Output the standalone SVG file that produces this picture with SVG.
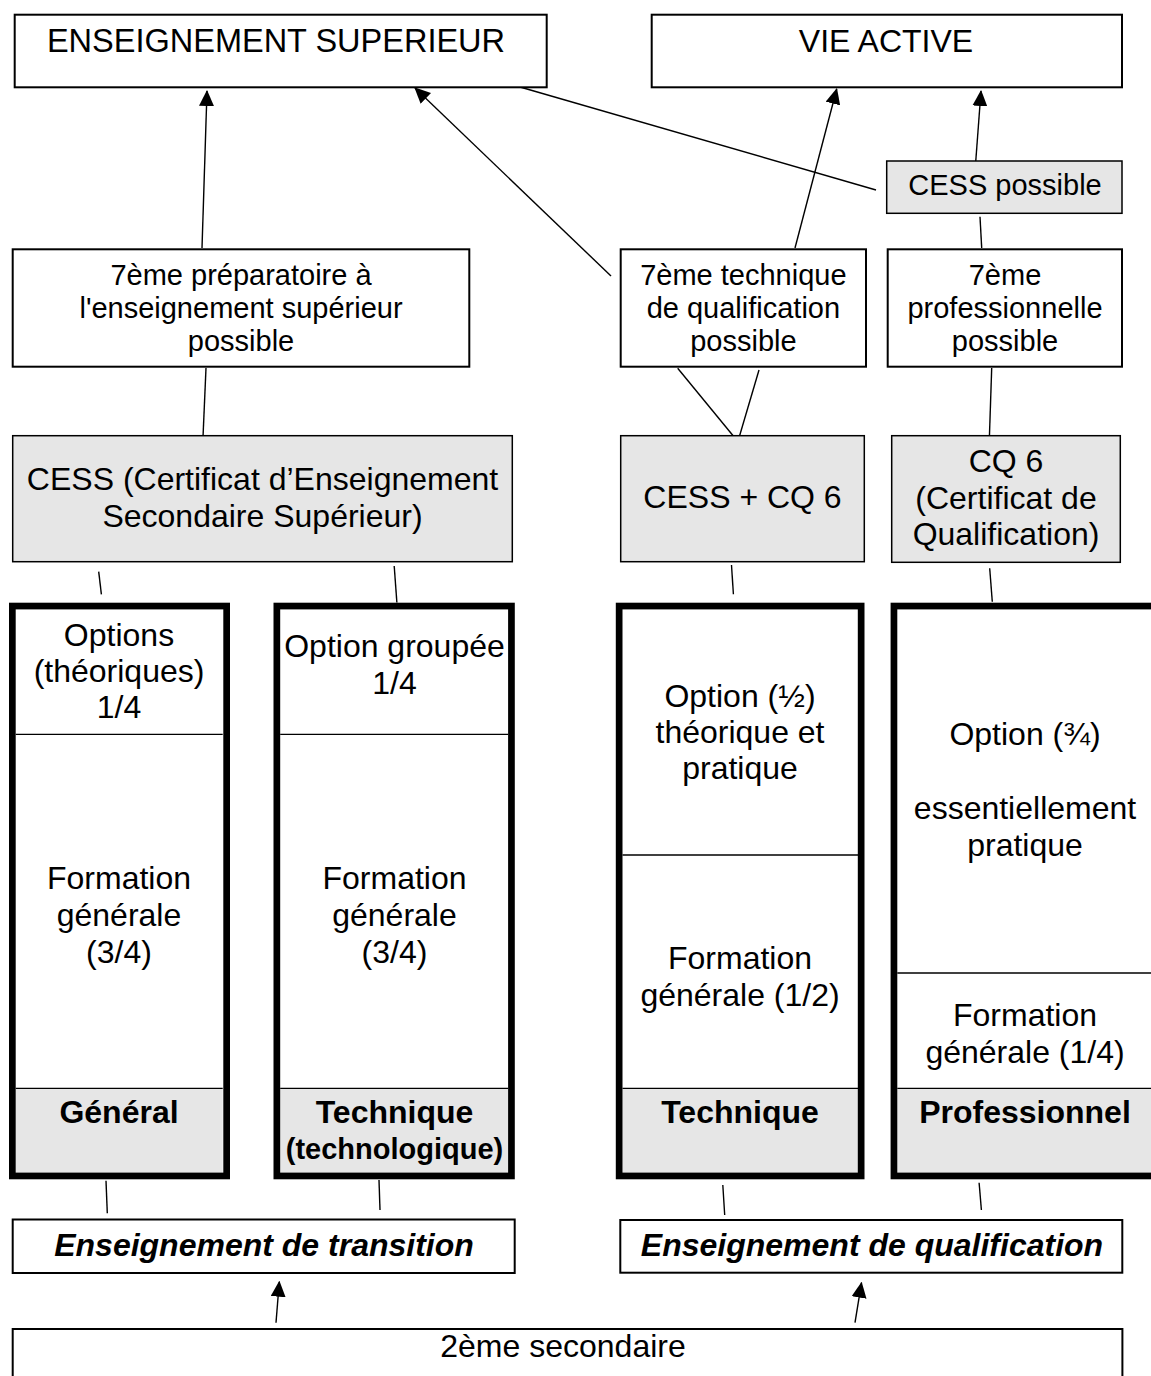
<svg xmlns="http://www.w3.org/2000/svg" width="1151" height="1376" viewBox="0 0 1151 1376">
<style>
.box{fill:#fff;stroke:#000;stroke-width:2}
.gbox{fill:#e6e6e6;stroke:#000;stroke-width:1.5}
.colbg{fill:#fff}
.colb{fill:none;stroke:#000;stroke-width:6.7}
.lbl{fill:#e6e6e6}
.dv{stroke:#000;stroke-width:1.3}
.t{font-family:"Liberation Sans",Arial,sans-serif;font-size:32px;text-anchor:middle;fill:#000}
.s{font-size:29px}
.b{font-weight:bold}
.bi{font-weight:bold;font-style:italic}
.con{stroke:#000;stroke-width:1.4;fill:none}
.arr{marker-end:url(#ah)}
</style>
<defs>
<marker id="ah" viewBox="0 0 16 15" markerWidth="16" markerHeight="15" refX="15" refY="7.5" orient="auto" markerUnits="userSpaceOnUse">
<path d="M0,0 L16,7.5 L0,15 Z" fill="#000"/>
</marker>
</defs>

<g id="connectors">
<line class="con arr" x1="202" y1="248" x2="207" y2="91"/>
<line class="con arr" x1="611" y1="276" x2="415" y2="88"/>
<line class="con arr" x1="795" y1="248" x2="836.7" y2="89"/>
<line class="con arr" x1="975.7" y1="162" x2="981" y2="91"/>
<line class="con" x1="520" y1="87" x2="876" y2="190"/>
<line class="con" x1="980" y1="216.7" x2="981.7" y2="248"/>
<line class="con" x1="206" y1="368" x2="203" y2="437"/>
<line class="con" x1="677.7" y1="368.3" x2="740.7" y2="445"/>
<line class="con" x1="759" y1="370" x2="739.3" y2="436.7"/>
<line class="con" x1="991.7" y1="368" x2="989.3" y2="440"/>
<line class="con" x1="98.7" y1="571.7" x2="101.4" y2="594.3"/>
<line class="con" x1="394.2" y1="566" x2="396.9" y2="602.7"/>
<line class="con" x1="731.5" y1="565" x2="733.4" y2="594.3"/>
<line class="con" x1="989.7" y1="568.3" x2="992.3" y2="601.7"/>
<line class="con" x1="106" y1="1180.7" x2="107.3" y2="1213.3"/>
<line class="con" x1="379" y1="1180" x2="380" y2="1210"/>
<line class="con" x1="722.8" y1="1185" x2="724.7" y2="1215"/>
<line class="con" x1="979.1" y1="1182.7" x2="981.4" y2="1210"/>
<line class="con arr" x1="276" y1="1322.7" x2="279.3" y2="1281.7"/>
<line class="con arr" x1="855" y1="1322.7" x2="861.5" y2="1282.7"/>
</g>

<g id="n-es">
<rect class="box" x="14.7" y="14.7" width="532" height="72.6"/>
<text class="t" x="276" y="52" style="font-size:32.5px">ENSEIGNEMENT SUPERIEUR</text>
</g>
<g id="n-va">
<rect class="box" x="651.7" y="14.7" width="470.3" height="72.6"/>
<text class="t" x="886" y="52">VIE ACTIVE</text>
</g>
<g id="n-cessp">
<rect class="gbox" x="886.7" y="161" width="235.3" height="52.3"/>
<text class="t s" x="1005" y="195">CESS possible</text>
</g>

<g id="n-7prep">
<rect class="box" x="12.7" y="249.3" width="456.6" height="117.4"/>
<text class="t s" x="241" y="284.5">7ème préparatoire à</text>
<text class="t s" x="241" y="317.5">l'enseignement supérieur</text>
<text class="t s" x="241" y="350.5">possible</text>
</g>
<g id="n-7tech">
<rect class="box" x="620.7" y="249.3" width="245.3" height="117.4"/>
<text class="t s" x="743.4" y="284.5">7ème technique</text>
<text class="t s" x="743.4" y="317.5">de qualification</text>
<text class="t s" x="743.4" y="350.5">possible</text>
</g>
<g id="n-7pro">
<rect class="box" x="887.7" y="249.3" width="234.3" height="117.4"/>
<text class="t s" x="1005" y="284.5">7ème</text>
<text class="t s" x="1005" y="317.5">professionnelle</text>
<text class="t s" x="1005" y="350.5">possible</text>
</g>

<g id="n-cess">
<rect class="gbox" x="12.7" y="435.7" width="499.6" height="126"/>
<text class="t" x="262.5" y="490">CESS (Certificat d’Enseignement</text>
<text class="t" x="262.5" y="526.7">Secondaire Supérieur)</text>
</g>
<g id="n-cesscq">
<rect class="gbox" x="620.7" y="435.7" width="243.6" height="126"/>
<text class="t" x="742.5" y="508.3">CESS + CQ 6</text>
</g>
<g id="n-cq6">
<rect class="gbox" x="891.7" y="435.7" width="228.6" height="126.6"/>
<text class="t" x="1006" y="472.3">CQ 6</text>
<text class="t" x="1006" y="508.5">(Certificat de</text>
<text class="t" x="1006" y="545">Qualification)</text>
</g>

<g id="col-general">
<rect class="colbg" x="9" y="602.7" width="221" height="576.6"/>
<rect class="lbl" x="15.7" y="1088.3" width="207" height="84.4"/>
<line class="dv" x1="15.7" y1="734.3" x2="222.7" y2="734.3"/>
<line class="dv" x1="15.7" y1="1088.3" x2="222.7" y2="1088.3"/>
<rect class="colb" x="12.35" y="606.05" width="214.3" height="569.9"/>
<text class="t" x="119" y="646">Options</text>
<text class="t" x="119" y="682">(théoriques)</text>
<text class="t" x="119" y="718">1/4</text>
<text class="t" x="119" y="889">Formation</text>
<text class="t" x="119" y="926">générale</text>
<text class="t" x="119" y="963">(3/4)</text>
<text class="t b" x="119" y="1123">Général</text>
</g>

<g id="col-techtrans">
<rect class="colbg" x="273.5" y="602.7" width="241.3" height="576.6"/>
<rect class="lbl" x="280.2" y="1088.3" width="228" height="84.4"/>
<line class="dv" x1="280.2" y1="734.3" x2="508.1" y2="734.3"/>
<line class="dv" x1="280.2" y1="1088.3" x2="508.1" y2="1088.3"/>
<rect class="colb" x="276.85" y="606.05" width="234.6" height="569.9"/>
<text class="t" x="394.5" y="657">Option groupée</text>
<text class="t" x="394.5" y="694">1/4</text>
<text class="t" x="394.5" y="889">Formation</text>
<text class="t" x="394.5" y="926">générale</text>
<text class="t" x="394.5" y="963">(3/4)</text>
<text class="t b" x="394.5" y="1123">Technique</text>
<text class="t b s" x="394.5" y="1159">(technologique)</text>
</g>

<g id="col-techqual">
<rect class="colbg" x="615.8" y="602.7" width="248.7" height="576.6"/>
<rect class="lbl" x="622.5" y="1088.3" width="235.5" height="84.4"/>
<line class="dv" x1="622.5" y1="855" x2="858" y2="855"/>
<line class="dv" x1="622.5" y1="1088.3" x2="858" y2="1088.3"/>
<rect class="colb" x="619.15" y="606.05" width="242" height="569.9"/>
<text class="t" x="740" y="707">Option (½)</text>
<text class="t" x="740" y="743">théorique et</text>
<text class="t" x="740" y="779">pratique</text>
<text class="t" x="740" y="969">Formation</text>
<text class="t" x="740" y="1006">générale (1/2)</text>
<text class="t b" x="740" y="1123">Technique</text>
</g>

<g id="col-pro">
<rect class="colbg" x="890.6" y="602.7" width="270" height="576.6"/>
<rect class="lbl" x="897.3" y="1088.3" width="260" height="84.4"/>
<line class="dv" x1="897.3" y1="973" x2="1160" y2="973"/>
<line class="dv" x1="897.3" y1="1088.3" x2="1160" y2="1088.3"/>
<rect class="colb" x="893.95" y="606.05" width="263" height="569.9"/>
<text class="t" x="1025" y="745">Option (¾)</text>
<text class="t" x="1025" y="819">essentiellement</text>
<text class="t" x="1025" y="856">pratique</text>
<text class="t" x="1025" y="1026">Formation</text>
<text class="t" x="1025" y="1063">générale (1/4)</text>
<text class="t b" x="1025" y="1123">Professionnel</text>
</g>

<g id="n-trans">
<rect class="box" x="12.7" y="1219.5" width="502" height="53.5"/>
<text class="t bi" x="264" y="1256">Enseignement de transition</text>
</g>
<g id="n-qual">
<rect class="box" x="620.3" y="1220" width="502" height="52.7"/>
<text class="t bi" x="872" y="1256">Enseignement de qualification</text>
</g>
<g id="n-2eme">
<rect class="box" x="12.7" y="1329" width="1109.7" height="70"/>
<text class="t" x="563" y="1357">2ème secondaire</text>
</g>
</svg>
